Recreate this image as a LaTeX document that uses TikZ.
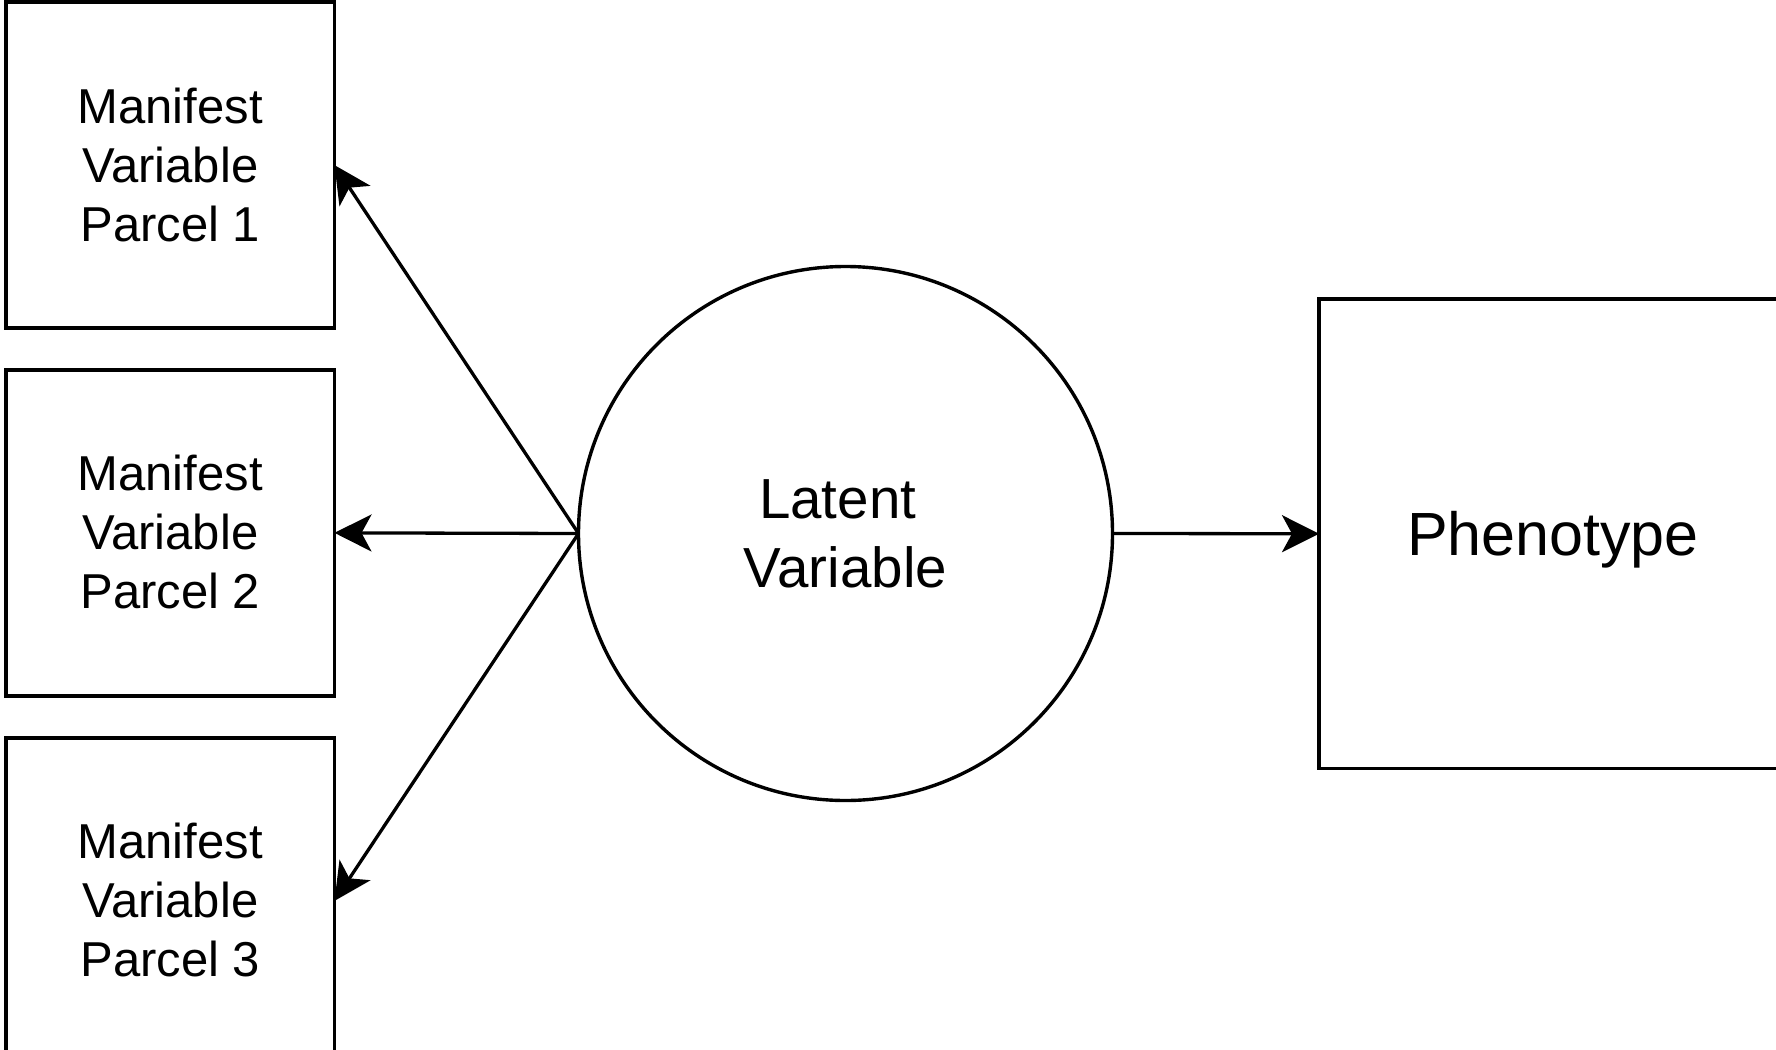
\documentclass[tikz,border=0pt]{standalone}
\usepackage{fontspec}
\setmainfont{Liberation Sans}
\usetikzlibrary{arrows.meta}
\begin{document}
\begin{tikzpicture}[x=1pt,y=-1pt,
  parcel/.style={draw, line width=3.6pt, rectangle, outer sep=0pt, inner sep=0pt,
    minimum width=328.5pt, minimum height=325.7pt, align=center,
    font=\fontsize{49}{59}\selectfont},
  latent/.style={draw, line width=3.4pt, circle, outer sep=0pt, inner sep=0pt,
    minimum size=534pt, align=center, font=\fontsize{56.5}{69}\selectfont},
  pheno/.style={draw, line width=3.6pt, rectangle, outer sep=0pt, inner sep=0pt,
    minimum width=468pt, minimum height=469.5pt, text depth=0pt,
    font=\fontsize{61}{70}\selectfont},
  link/.style={line width=3.3pt, -{Stealth[length=37pt, width=37pt, inset=10pt]}}]
  \clip (0,0) rectangle (1776,1049);
  \fill[white] (0,0) rectangle (1776,1049);

  % manifest variable parcels
  \node[parcel] (p1) at (170.25,165.15) {};
  \node[parcel] (p2) at (170.25,532.85) {};
  \node[parcel] (p3) at (170.25,900.85) {};
  \node[parcel, draw=none, minimum size=0pt] (t1) at ([yshift=0.5pt]p1.center) {Manifest\\Variable\\Parcel 1};
  \node[parcel, draw=none, minimum size=0pt] (t2) at ([yshift=0.5pt]p2.center) {Manifest\\Variable\\Parcel 2};
  \node[parcel, draw=none, minimum size=0pt] (t3) at ([yshift=0.5pt]p3.center) {Manifest\\Variable\\Parcel 3};

  % latent factor and outcome
  \node[latent] (lv) at (845.5,533.5) {Latent\kern15.6pt\\Variable};
  \node[pheno] (ph) at (1553,533.75) {Phenotype};

  % loadings and path to the outcome
  \draw[link] (lv.west) -- (p1.east);
  \draw[link] (lv.west) -- (p2.east);
  \draw[link] (lv.west) -- (p3.east);
  \draw[link] (lv.east) -- (ph.west);
\end{tikzpicture}
\end{document}
